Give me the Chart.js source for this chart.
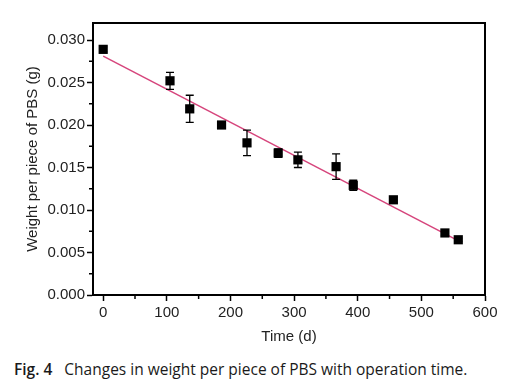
<!DOCTYPE html>
<html>
<head>
<meta charset="utf-8">
<script src="https://cdn.jsdelivr.net/npm/chart.js@4"></script>
<style>
  html, body { margin: 0; padding: 0; background: #fff; }
  #wrap { position: relative; width: 511px; height: 352px; }
  #caption {
    position: absolute; left: 14px; top: 358px;
    font-family: "Open Sans", "Noto Sans", sans-serif; font-size: 15.5px; color: #1a1a1a;
    white-space: nowrap;
  }
  #caption b { font-weight: 600; margin-right: 8px; }
</style>
</head>
<body>
<div id="wrap"><canvas id="chart" width="511" height="352"></canvas></div>
<div id="caption"><b>Fig. 4</b> Changes in weight per piece of PBS with operation time.</div>
<script>
// ── Data ─────────────────────────────────────────────────────────────────────
const days    = [0, 105, 136, 186, 226, 275, 306, 366, 393, 456, 537, 558];
const weights = [0.0289, 0.0252, 0.0219, 0.0200, 0.0179, 0.0167, 0.0159, 0.0151, 0.0129, 0.0112, 0.0073, 0.0065];
const errors  = [0.0003, 0.0010, 0.0016, 0.0002, 0.0015, 0.0005, 0.0009, 0.0015, 0.0006, 0.0003, 0.0003, 0.0002];

// linear fit end points
const fitX = [0, 560];
const fitY = [0.0281, 0.0063];

const xTicks = [0, 100, 200, 300, 400, 500, 600];
const yTicks = [0.000, 0.005, 0.010, 0.015, 0.020, 0.025, 0.030];

const FONT = "'Liberation Sans', Arial, sans-serif";

// ── Plugins ──────────────────────────────────────────────────────────────────
const errorBars = {
  id: 'errorBars',
  afterDatasetsDraw(chart) {
    const {ctx, scales: {x, y}} = chart;
    ctx.save();
    ctx.strokeStyle = '#000';
    ctx.lineWidth = 1.3;
    days.forEach((d, i) => {
      const px = x.getPixelForValue(d);
      const top = y.getPixelForValue(weights[i] + errors[i]);
      const bot = y.getPixelForValue(weights[i] - errors[i]);
      ctx.beginPath();
      ctx.moveTo(px, top); ctx.lineTo(px, bot);
      ctx.moveTo(px - 4, top); ctx.lineTo(px + 4, top);
      ctx.moveTo(px - 4, bot); ctx.lineTo(px + 4, bot);
      ctx.stroke();
    });
    ctx.restore();
  }
};

const frame = {
  id: 'frame',
  afterDraw(chart) {
    const {ctx, chartArea: a, scales: {x, y}} = chart;
    ctx.save();
    ctx.strokeStyle = '#000';
    ctx.lineWidth = 2;
    ctx.strokeRect(a.left, a.top, a.right - a.left, a.bottom - a.top);
    // minor ticks
    ctx.lineWidth = 1.5;
    ctx.beginPath();
    for (let v = 50; v < 600; v += 100) {
      const px = x.getPixelForValue(v);
      ctx.moveTo(px, a.bottom); ctx.lineTo(px, a.bottom + 4);
    }
    for (let v = 0.0025; v < 0.032; v += 0.005) {
      const py = y.getPixelForValue(v);
      ctx.moveTo(a.left, py); ctx.lineTo(a.left - 4, py);
    }
    ctx.stroke();
    ctx.restore();
  }
};

// ── Chart ────────────────────────────────────────────────────────────────────
new Chart(document.getElementById('chart'), {
  type: 'scatter',
  data: {
    datasets: [
      {
        label: 'Fit',
        type: 'line',
        data: fitX.map((v, i) => ({x: v, y: fitY[i]})),
        borderColor: '#d6457c',
        borderWidth: 1.5,
        pointRadius: 0,
        fill: false,
        order: 2,
      },
      {
        label: 'Weight',
        data: days.map((d, i) => ({x: d, y: weights[i]})),
        pointStyle: 'rect',
        pointRadius: 6.5,
        backgroundColor: '#000',
        borderColor: '#000',
        borderWidth: 0,
        order: 1,
      },
    ],
  },
  options: {
    responsive: false,
    animation: false,
    layout: { padding: { top: 23, right: 26, left: 0, bottom: 0 } },
    plugins: { legend: { display: false }, tooltip: { enabled: false } },
    scales: {
      x: {
        type: 'linear',
        min: -16, max: 600,
        afterBuildTicks: s => { s.ticks = xTicks.map(v => ({value: v})); },
        afterFit: s => { s.height = 57; },
        border: { color: '#000', width: 2 },
        grid: { drawOnChartArea: false, tickLength: 6, tickColor: '#000', tickWidth: 1.5 },
        ticks: { color: '#222', font: { family: FONT, size: 15 }, padding: 3, maxRotation: 0 },
        title: { display: true, text: 'Time (d)', color: '#222', font: { family: FONT, size: 15 }, padding: { top: 10, bottom: 6 } },
      },
      y: {
        min: 0, max: 0.032,
        afterBuildTicks: s => { s.ticks = yTicks.map(v => ({value: v})); },
        afterFit: s => { s.width = 93; },
        border: { color: '#000', width: 2 },
        grid: { drawOnChartArea: false, tickLength: 6, tickColor: '#000', tickWidth: 1.5 },
        ticks: { color: '#222', font: { family: FONT, size: 15 }, padding: 2, callback: v => v.toFixed(3) },
        title: { display: true, text: 'Weight per piece of PBS (g)', color: '#222', font: { family: FONT, size: 15 }, padding: { top: 24, bottom: 0 } },
      },
    },
  },
  plugins: [errorBars, frame],
});
</script>
</body>
</html>
